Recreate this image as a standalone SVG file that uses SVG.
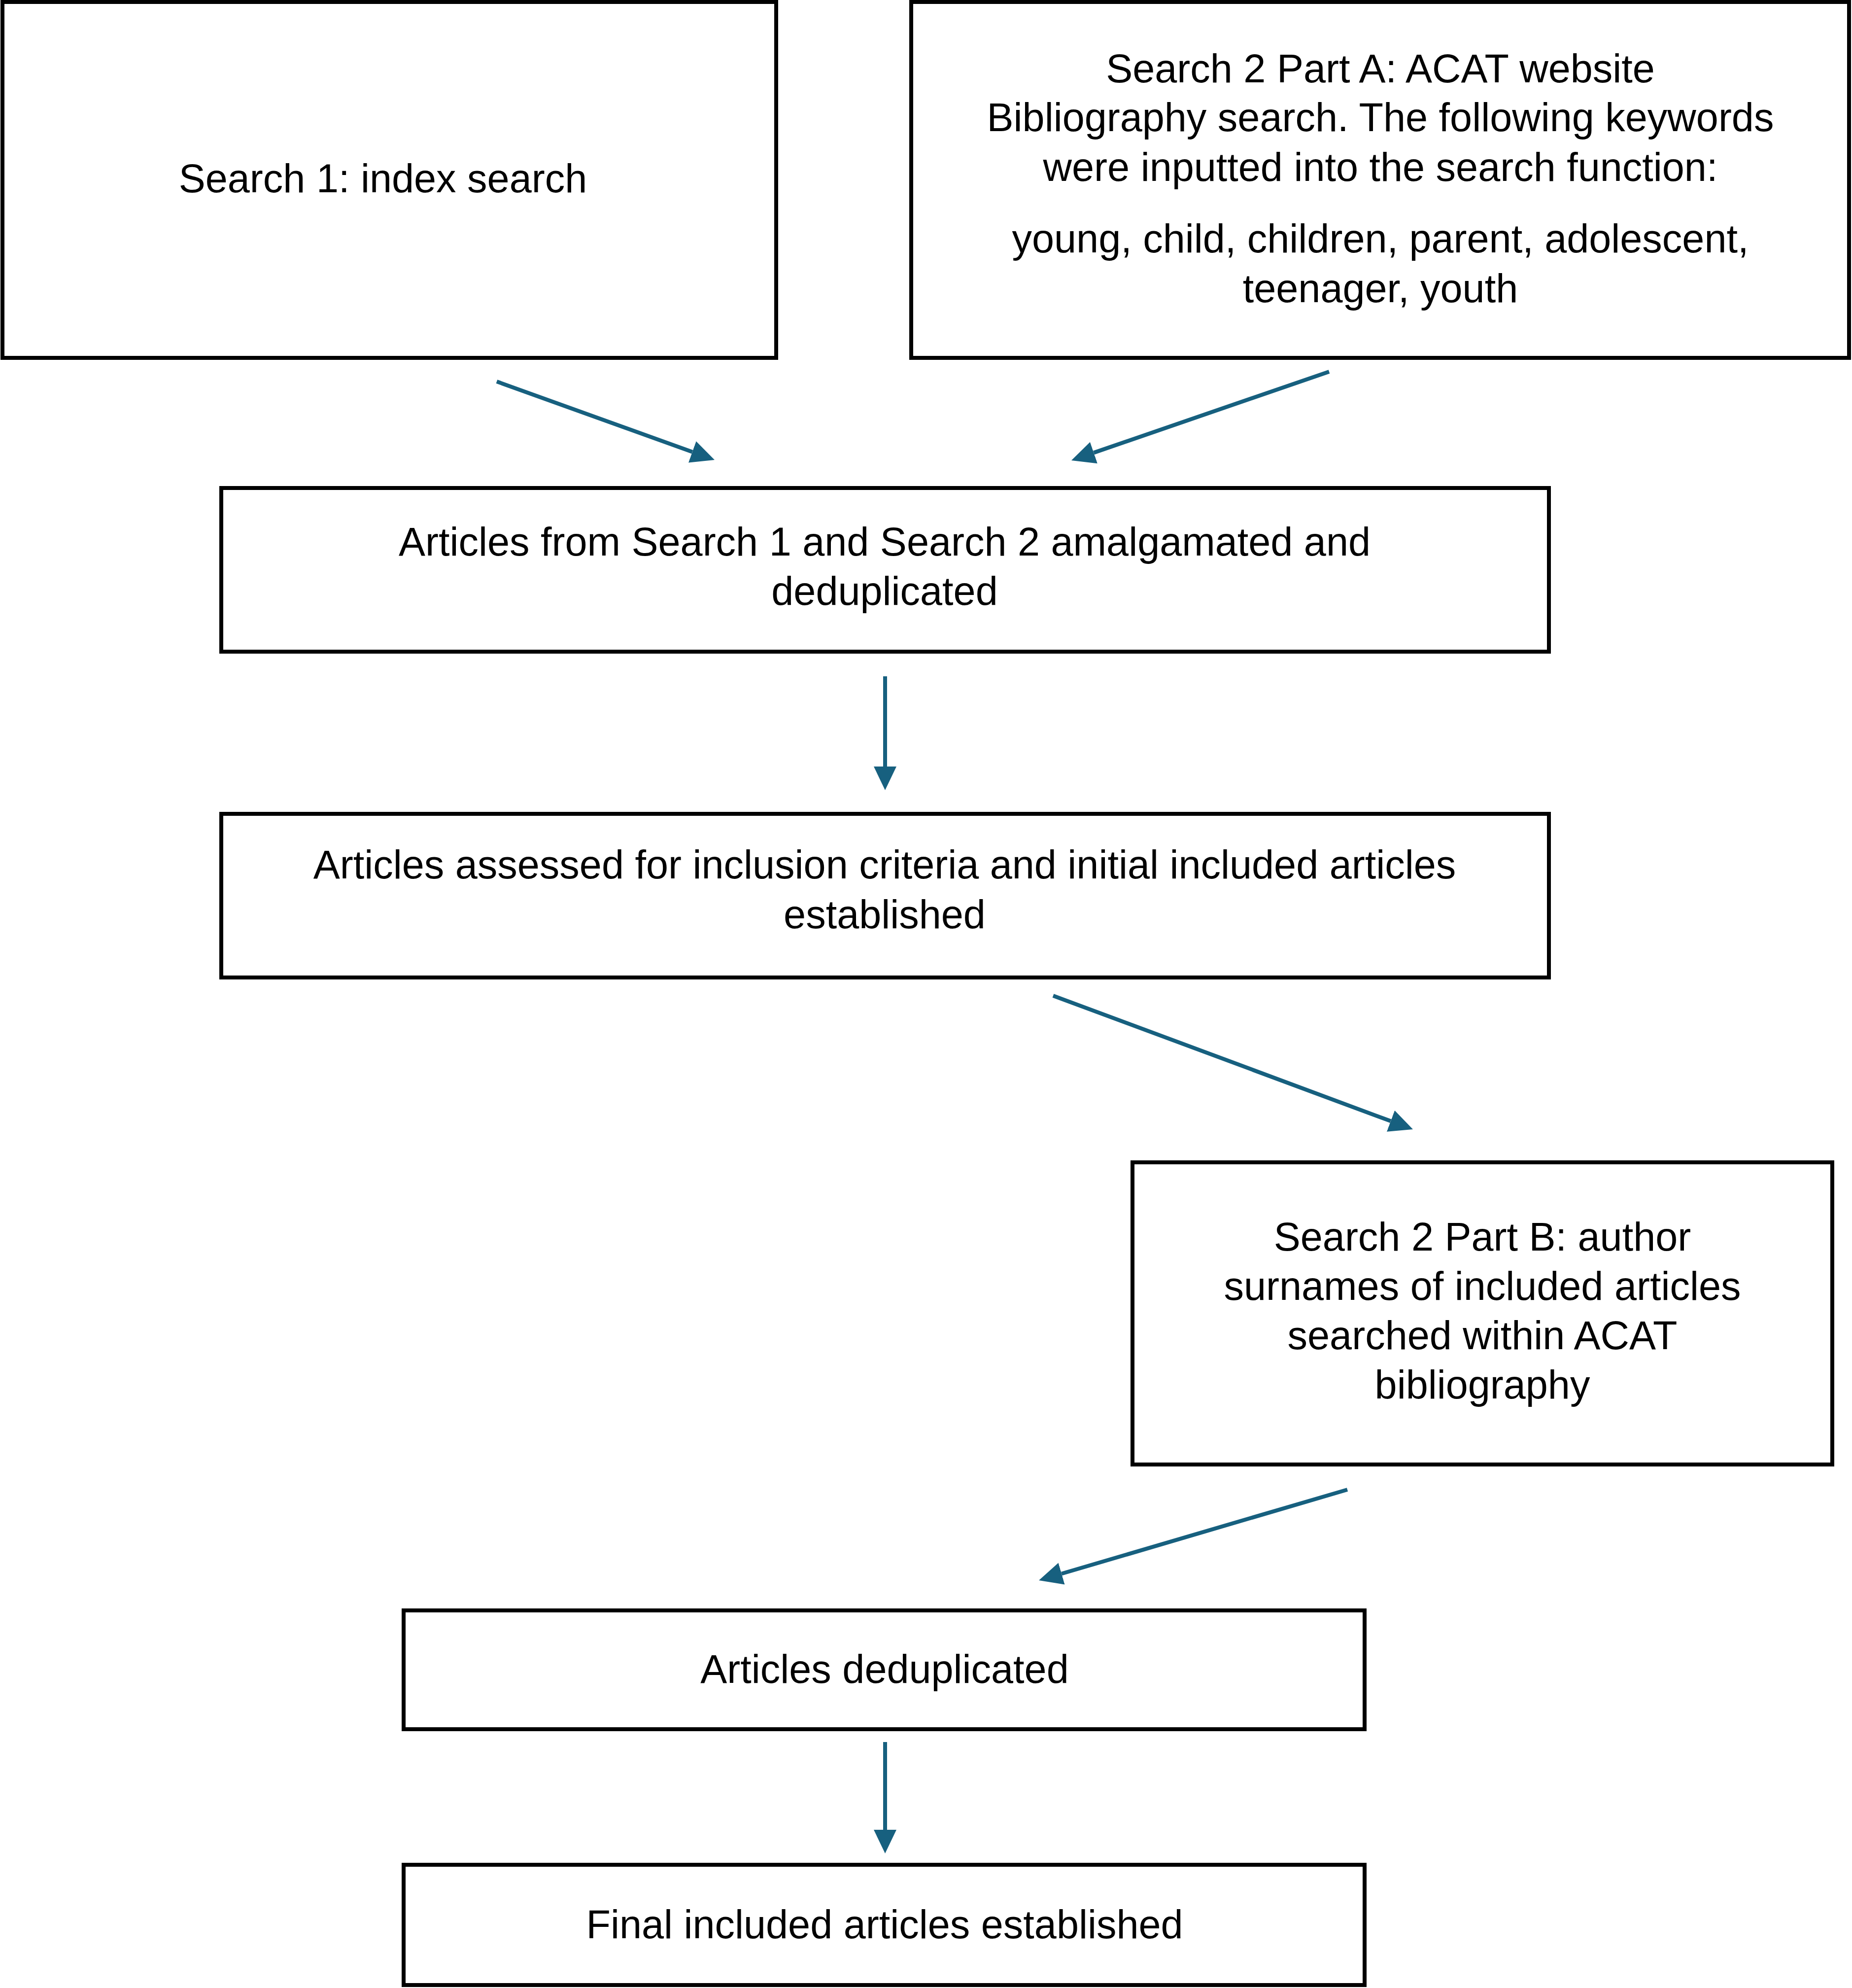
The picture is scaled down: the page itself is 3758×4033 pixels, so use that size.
<svg xmlns="http://www.w3.org/2000/svg" width="3758" height="4033" viewBox="0 0 3758 4033">
<style>
.box{fill:#fff;stroke:#000;stroke-width:8}
.t{font-family:"Liberation Sans",Arial,sans-serif;font-size:81px;fill:#000;text-anchor:middle}
.c{stroke:#17607f;stroke-width:8;fill:none;marker-end:url(#ah)}
</style>
<defs>
<marker id="ah" markerUnits="userSpaceOnUse" markerWidth="50" markerHeight="48" refX="0" refY="23" orient="auto">
<path d="M0,0 L48,23 L0,46 z" fill="#17607f"/>
</marker>
</defs>
<rect width="3758" height="4033" fill="#fff"/>
<g id="n1"><rect class="box" x="5" y="4" width="1570" height="722"/><text class="t" x="777" y="390">Search 1: index search</text></g>
<g id="n2"><rect class="box" x="1849" y="4" width="1903" height="722"/>
<text class="t" x="2801" y="167">Search 2 Part A: ACAT website</text>
<text class="t" x="2801" y="266">Bibliography search. The following keywords</text>
<text class="t" x="2801" y="367">were inputted into the search function:</text>
<text class="t" x="2801" y="512">young, child, children, parent, adolescent,</text>
<text class="t" x="2801" y="613">teenager, youth</text></g>
<g id="n3"><rect class="box" x="449" y="990" width="2694" height="332"/>
<text class="t" x="1795" y="1127">Articles from Search 1 and Search 2 amalgamated and</text>
<text class="t" x="1795" y="1227">deduplicated</text></g>
<g id="n4"><rect class="box" x="449" y="1651" width="2694" height="332"/>
<text class="t" x="1795" y="1782">Articles assessed for inclusion criteria and initial included articles</text>
<text class="t" x="1795" y="1883">established</text></g>
<g id="n5"><rect class="box" x="2298" y="2358" width="1420" height="613"/>
<text class="t" x="3008" y="2537">Search 2 Part B: author</text>
<text class="t" x="3008" y="2637">surnames of included articles</text>
<text class="t" x="3008" y="2737">searched within ACAT</text>
<text class="t" x="3008" y="2837">bibliography</text></g>
<g id="n6"><rect class="box" x="819" y="3267" width="1950" height="241"/>
<text class="t" x="1795" y="3414">Articles deduplicated</text></g>
<g id="n7"><rect class="box" x="819" y="3783" width="1950" height="244"/>
<text class="t" x="1795" y="3932">Final included articles established</text></g>
<g id="connectors">
<line class="c" x1="1008" y1="774" x2="1404.8" y2="916.8"/>
<line class="c" x1="2697" y1="754" x2="2219.4" y2="918.4"/>
<line class="c" x1="1796" y1="1372" x2="1796" y2="1555"/>
<line class="c" x1="2137" y1="2020" x2="2822" y2="2274.3"/>
<line class="c" x1="2734" y1="3022" x2="2154.1" y2="3192.5"/>
<line class="c" x1="1796" y1="3534" x2="1796" y2="3712"/>
</g>
</svg>
